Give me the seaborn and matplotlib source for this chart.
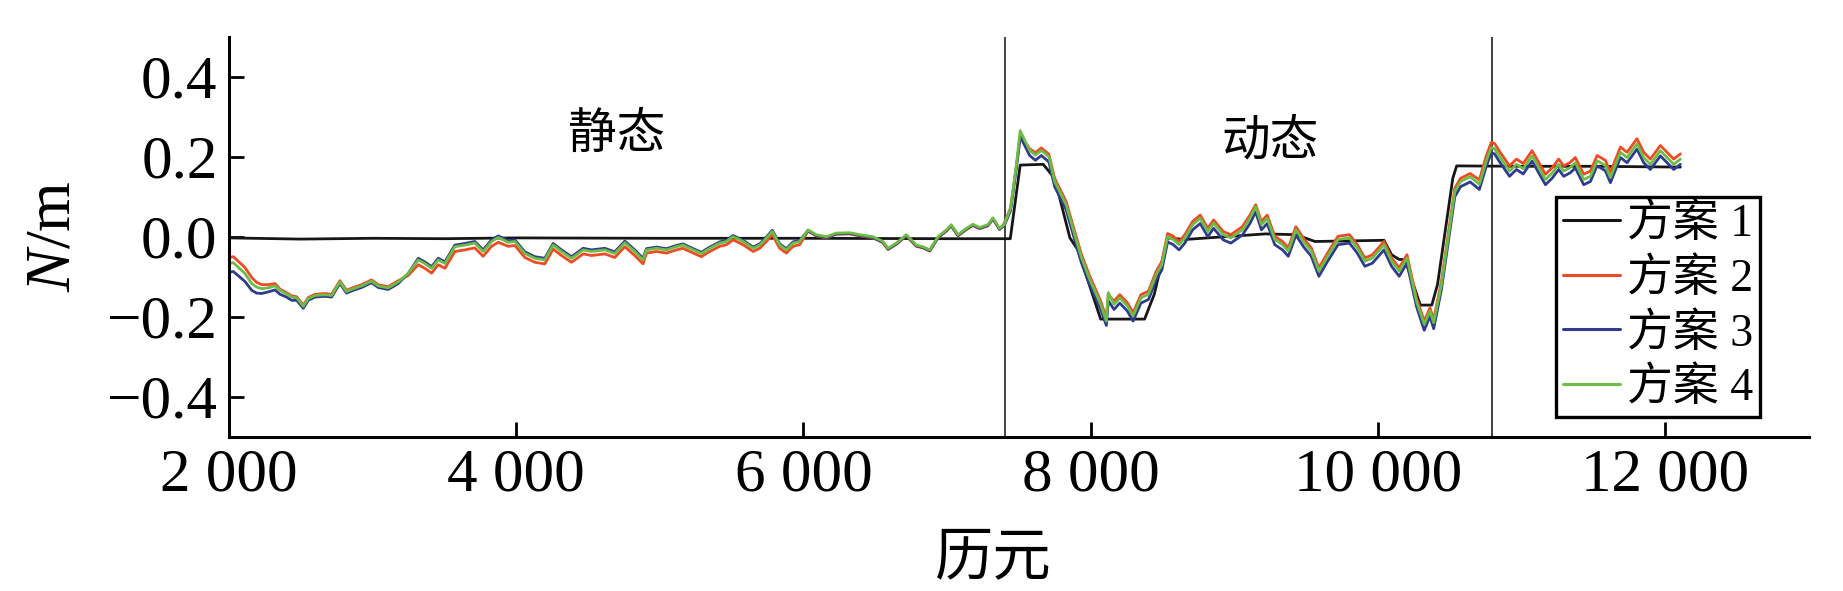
import matplotlib
matplotlib.use("Agg")
import matplotlib.pyplot as plt
from matplotlib.lines import Line2D
import seaborn as sns
import pandas as pd

# ---------------- data ----------------
# epochs shared by schemes 2-4
epoch = [
    2000, 2032, 2113, 2160, 2194, 2229, 2275, 2322, 2357, 2403, 2438, 2473, 2519, 2554, 2600, 2670,
    2716, 2774, 2820, 2867, 2925, 2994, 3041, 3110, 3180, 3249, 3319, 3365, 3412, 3458, 3505, 3574,
    3644, 3713, 3771, 3829, 3876, 3945, 3992, 4061, 4131, 4200, 4258, 4316, 4386, 4467, 4525, 4618,
    4687, 4757, 4826, 4884,
    4907, 4977, 5047, 5116, 5162, 5209, 5290, 5348, 5418, 5464, 5510, 5580, 5650, 5696, 5742, 5784,
    5835, 5881, 5928, 5974, 6032, 6090, 6160, 6229, 6322, 6392, 6484, 6554, 6589, 6647, 6716, 6786,
    6832, 6879, 6937, 6995, 7029, 7076, 7134, 7180, 7226, 7284, 7319, 7365,
    7397, 7442, 7482, 7509, 7535, 7575, 7615, 7656, 7709, 7749, 7829, 7882, 7936, 7989, 8069, 8109,
    8122, 8162, 8202, 8255, 8295, 8349, 8402, 8455, 8495, 8535, 8575, 8615, 8655, 8709, 8762, 8815,
    8855, 8922, 8975, 9055, 9108, 9148, 9188, 9228, 9281, 9335, 9375, 9428, 9481, 9535, 9588, 9641,
    9721, 9801, 9855, 9908, 9961, 10041, 10094, 10147, 10201, 10267, 10321, 10361, 10387, 10441,
    10494, 10534, 10574, 10641, 10705, 10754, 10788,
    10811, 10846, 10915, 10963, 11010, 11072, 11118, 11165, 11211, 11257, 11292, 11338, 11373, 11431,
    11478, 11524, 11582, 11617, 11687, 11733, 11802, 11849, 11895, 11965, 12011, 12058, 12104,
]

scheme2 = [
    -0.052, -0.050, -0.077, -0.102, -0.114, -0.120, -0.120, -0.117, -0.131, -0.140, -0.148, -0.150,
    -0.171, -0.152, -0.144, -0.142, -0.144, -0.110, -0.134, -0.127, -0.120, -0.108, -0.120, -0.125,
    -0.110, -0.097, -0.070, -0.079, -0.091, -0.070, -0.079, -0.037, -0.033, -0.028, -0.049, -0.024,
    -0.014, -0.024, -0.022, -0.052, -0.064, -0.068, -0.031, -0.047, -0.064, -0.043, -0.047, -0.043,
    -0.052, -0.025, -0.047, -0.068,
    -0.041, -0.037, -0.041, -0.033, -0.029, -0.037, -0.050, -0.037, -0.024, -0.020, -0.008, -0.020,
    -0.037, -0.029, -0.012, 0.005, -0.029, -0.041, -0.024, -0.020, 0.014, 0.002, -0.003, 0.006,
    0.007, 0.002, -0.003, -0.015, -0.032, -0.019, 0.002, -0.024, -0.028, -0.036, -0.003, 0.014,
    0.027, 0.002, 0.018, 0.028, 0.020, 0.027, 0.044, 0.018,
    0.033, 0.072, 0.175, 0.250, 0.240, 0.220, 0.210, 0.222, 0.206, 0.145, 0.088, 0.021, -0.045,
    -0.095, -0.161, -0.203, -0.145, -0.161, -0.145, -0.165, -0.190, -0.145, -0.136, -0.087, -0.062,
    0.008, 0.001, -0.012, 0.005, 0.038, 0.054, 0.021, 0.042, 0.013, 0.005, 0.025, 0.054, 0.080,
    0.038, 0.054, 0.001, -0.012, -0.028, 0.025, -0.004, -0.028, -0.078, -0.045, 0.001, 0.005,
    -0.020, -0.053, -0.045, -0.012, -0.053, -0.078, -0.045, -0.153, -0.211, -0.178, -0.207, -0.111,
    0.021, 0.121, 0.146, 0.158, 0.142, 0.203, 0.236,
    0.233, 0.213, 0.177, 0.194, 0.183, 0.215, 0.186, 0.156, 0.172, 0.194, 0.177, 0.186, 0.198,
    0.156, 0.164, 0.203, 0.191, 0.161, 0.224, 0.211, 0.245, 0.211, 0.194, 0.228, 0.211, 0.194, 0.207,
]

scheme3 = [
    -0.089, -0.087, -0.112, -0.134, -0.141, -0.142, -0.138, -0.133, -0.144, -0.151, -0.159, -0.159,
    -0.179, -0.159, -0.151, -0.149, -0.151, -0.117, -0.141, -0.134, -0.127, -0.115, -0.127, -0.132,
    -0.117, -0.092, -0.054, -0.063, -0.075, -0.054, -0.063, -0.021, -0.017, -0.012, -0.033, -0.008,
    0.002, -0.010, -0.008, -0.038, -0.050, -0.054, -0.017, -0.033, -0.050, -0.029, -0.033, -0.029,
    -0.038, -0.011, -0.033, -0.054,
    -0.030, -0.026, -0.030, -0.022, -0.018, -0.026, -0.039, -0.026, -0.013, -0.009, 0.003, -0.009,
    -0.026, -0.018, -0.001, 0.016, -0.018, -0.030, -0.013, -0.009, 0.015, 0.003, -0.002, 0.007,
    0.008, 0.003, -0.002, -0.014, -0.031, -0.018, 0.003, -0.023, -0.027, -0.035, -0.002, 0.015,
    0.028, 0.003, 0.019, 0.029, 0.021, 0.028, 0.045, 0.019,
    0.027, 0.065, 0.170, 0.250, 0.232, 0.203, 0.191, 0.203, 0.187, 0.125, 0.067, 0.000, -0.066,
    -0.116, -0.182, -0.222, -0.160, -0.182, -0.166, -0.186, -0.211, -0.166, -0.157, -0.108, -0.083,
    -0.013, -0.020, -0.033, -0.016, 0.017, 0.033, 0.000, 0.021, -0.008, -0.016, 0.004, 0.033, 0.062,
    0.017, 0.033, -0.020, -0.033, -0.049, 0.004, -0.025, -0.049, -0.099, -0.066, -0.020, -0.016,
    -0.041, -0.074, -0.066, -0.033, -0.074, -0.099, -0.066, -0.174, -0.234, -0.199, -0.230, -0.132,
    0.000, 0.100, 0.125, 0.137, 0.118, 0.177, 0.210,
    0.207, 0.187, 0.151, 0.168, 0.157, 0.189, 0.160, 0.130, 0.146, 0.168, 0.151, 0.160, 0.172,
    0.130, 0.138, 0.177, 0.165, 0.135, 0.198, 0.185, 0.219, 0.185, 0.168, 0.202, 0.185, 0.168, 0.181,
]

scheme4 = [
    -0.067, -0.065, -0.092, -0.117, -0.126, -0.130, -0.128, -0.123, -0.134, -0.143, -0.151, -0.153,
    -0.174, -0.155, -0.147, -0.145, -0.147, -0.113, -0.137, -0.130, -0.123, -0.111, -0.123, -0.128,
    -0.113, -0.092, -0.058, -0.067, -0.079, -0.058, -0.067, -0.025, -0.021, -0.016, -0.037, -0.012,
    -0.002, -0.014, -0.012, -0.042, -0.054, -0.058, -0.021, -0.037, -0.054, -0.033, -0.037, -0.033,
    -0.042, -0.015, -0.037, -0.058,
    -0.033, -0.029, -0.033, -0.025, -0.021, -0.029, -0.042, -0.029, -0.016, -0.012, 0.000, -0.012,
    -0.029, -0.021, -0.004, 0.013, -0.021, -0.033, -0.016, -0.012, 0.017, 0.005, 0.000, 0.009,
    0.010, 0.005, 0.000, -0.012, -0.029, -0.016, 0.005, -0.021, -0.025, -0.033, 0.000, 0.017,
    0.030, 0.005, 0.021, 0.031, 0.023, 0.030, 0.047, 0.021,
    0.030, 0.071, 0.179, 0.265, 0.245, 0.216, 0.204, 0.216, 0.200, 0.138, 0.080, 0.013, -0.053,
    -0.103, -0.169, -0.211, -0.140, -0.169, -0.153, -0.173, -0.198, -0.153, -0.144, -0.095, -0.070,
    0.000, -0.007, -0.020, -0.003, 0.030, 0.046, 0.013, 0.034, 0.005, -0.003, 0.017, 0.046, 0.075,
    0.030, 0.046, -0.007, -0.020, -0.036, 0.017, -0.012, -0.036, -0.086, -0.053, -0.007, -0.003,
    -0.028, -0.061, -0.053, -0.020, -0.061, -0.086, -0.053, -0.161, -0.219, -0.186, -0.215, -0.119,
    0.013, 0.113, 0.138, 0.150, 0.131, 0.190, 0.223,
    0.220, 0.200, 0.164, 0.181, 0.170, 0.202, 0.173, 0.143, 0.159, 0.181, 0.164, 0.173, 0.185,
    0.143, 0.151, 0.190, 0.178, 0.148, 0.211, 0.198, 0.232, 0.198, 0.181, 0.215, 0.198, 0.181, 0.194,
]

# scheme 1 (reference / step-like profile)
epoch1 = [2000, 2500, 3000, 3500, 4000, 5000, 6000, 7000, 7440, 7509, 7669, 7749, 7855, 7909,
          8069, 8375, 8442, 8535, 8655, 8975, 9215, 9428, 9561, 10041, 10094, 10147, 10187,
          10294, 10374, 10414, 10520, 10547, 11000, 11500, 12104]
scheme1 = [-0.003, -0.006, -0.004, -0.005, -0.003, -0.004, -0.004, -0.005, -0.005, 0.179, 0.181,
           0.146, -0.003, -0.032, -0.206, -0.206, -0.144, -0.003, -0.007, 0.001, 0.007, 0.005,
           -0.012, -0.009, -0.045, -0.057, -0.057, -0.171, -0.171, -0.119, 0.146, 0.177, 0.176,
           0.176, 0.174]

labels = ["方案 1", "方案 2", "方案 3", "方案 4"]
colors = ["#161616", "#ee4a25", "#2f3b8f", "#6dbd45"]

xticks = [2000, 4000, 6000, 8000, 10000, 12000]
xticklabels = ["2 000", "4 000", "6 000", "8 000", "10 000", "12 000"]
yticks = [-0.4, -0.2, 0.0, 0.2, 0.4]
yticklabels = ["\u22120.4", "\u22120.2", "0.0", "0.2", "0.4"]

boundaries = [7400, 10790]
phase_labels = ["静态", "动态"]
phase_x = [4700, 9250]
phase_y = [0.252, 0.238]

# ---------------- plotting ----------------
sns.set_theme(style="ticks")
plt.rcParams["font.family"] = ["Liberation Serif", "Noto Sans CJK SC"]
plt.rcParams["mathtext.fontset"] = "custom"
plt.rcParams["mathtext.it"] = "Liberation Serif:italic"
plt.rcParams["mathtext.rm"] = "Liberation Serif"
plt.rcParams["text.color"] = "black"
plt.rcParams["axes.labelcolor"] = "black"
plt.rcParams["xtick.color"] = "black"
plt.rcParams["ytick.color"] = "black"

assert len(epoch) == len(scheme2) == len(scheme3) == len(scheme4)

frames = [pd.DataFrame({"epoch": epoch1, "value": scheme1, "scheme": labels[0]})]
for lab, vals in zip(labels[1:], [scheme2, scheme3, scheme4]):
    frames.append(pd.DataFrame({"epoch": epoch, "value": vals, "scheme": lab}))
df = pd.concat(frames, ignore_index=True)

fig = plt.figure(figsize=(18.43, 5.91), dpi=100)
ax = fig.add_axes([0.1241, 0.2611, 0.8575, 0.6768])

sns.lineplot(data=df, x="epoch", y="value", hue="scheme", hue_order=labels,
             palette=dict(zip(labels, colors)), estimator=None, sort=False,
             linewidth=2.0, ax=ax, legend=False)

for b in boundaries:
    ax.axvline(b, color="#222222", lw=1.2, zorder=0)

for t, x, y in zip(phase_labels, phase_x, phase_y):
    ax.text(x, y, t, fontsize=35, ha="center", va="center")

ax.set_xlim(2000, 13000)
ax.set_ylim(-0.5, 0.5)
ax.set_xticks(xticks)
ax.set_xticklabels(xticklabels)
ax.set_yticks(yticks)
ax.set_yticklabels(yticklabels)
ax.tick_params(direction="in", length=11, width=2, labelsize=44, pad=8)
sns.despine(ax=ax)
for s in ["left", "bottom"]:
    ax.spines[s].set_linewidth(2.2)
    ax.spines[s].set_color("black")

ax.set_xlabel("历元", fontsize=42)
ax.xaxis.set_label_coords(0.484, -0.245)
ax.set_ylabel(r"$N$/m", fontsize=46)
ax.yaxis.set_label_coords(-0.092, 0.5)

handles = [Line2D([0], [0], color=c, lw=2.2) for c in colors]
leg = ax.legend(handles, labels, loc="upper right", bbox_to_anchor=(0.969, 0.600),
                fontsize=33, frameon=True, fancybox=False, edgecolor="black",
                handlelength=1.25, handletextpad=0.15, labelspacing=0.26,
                borderpad=0.15, borderaxespad=0)
leg.get_frame().set_linewidth(2.4)
leg.get_frame().set_alpha(1)

fig.savefig("out.png", dpi=100)
